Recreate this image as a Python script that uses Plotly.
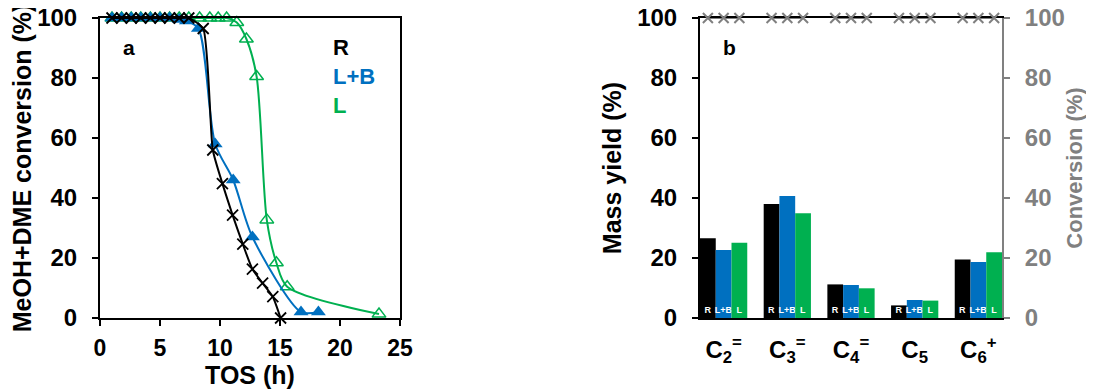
import plotly.graph_objects as go

# ---------- Panel a data ----------
R_tos = [1.0, 1.8, 2.6, 3.4, 4.2, 5.0, 5.8, 6.6, 7.4, 8.6, 9.4, 10.2, 11.05, 11.9, 12.7, 13.55, 14.4, 15.05]
R_conv = [100, 100, 100, 100, 100, 100, 100, 100, 100, 96.5, 56, 44.8, 34.3, 24.6, 16.3, 11.6, 7.1, 0]

LB_tos = [1.0, 1.8, 2.6, 3.4, 4.2, 5.0, 5.8, 6.6, 7.2, 8.2, 9.6, 11.1, 12.7, 16.75, 18.2]
LB_conv = [100, 100, 100, 100, 100, 100, 100, 99.5, 99, 96.5, 58, 46, 27, 2, 2]

L_tos = [1.0, 1.8, 2.6, 3.4, 4.2, 5.0, 5.8, 6.6, 7.4, 8.3, 9.15, 9.85, 10.55, 11.4, 12.2, 13.05, 13.9, 14.7, 15.6, 23.25]
L_conv = [100, 100, 100, 100, 100, 100, 100, 100, 100, 100, 100, 100, 100, 98.5, 93, 80.5, 32.7, 18.4, 10.4, 1.3]

# ---------- Panel b data ----------
products = ["C<sub>2</sub><sup>=</sup>", "C<sub>3</sub><sup>=</sup>", "C<sub>4</sub><sup>=</sup>",
            "C<sub>5</sub>", "C<sub>6</sub><sup>+</sup>"]
yield_R = [26.6, 38.0, 11.2, 4.2, 19.5]
yield_LB = [22.7, 40.7, 11.0, 6.0, 18.7]
yield_L = [25.1, 34.9, 9.9, 5.8, 21.9]
conv_R = [100, 100, 100, 100, 100]
conv_LB = [100, 100, 100, 100, 100]
conv_L = [100, 100, 100, 100, 100]
series_names = ["R", "L+B", "L"]

BLACK = "#000000"
BLUE = "#0070C0"
GREEN = "#00B050"
GRAY = "#808080"
FONT = "Liberation Sans, Arial, sans-serif"

fig = go.Figure()

# Panel a
fig.add_trace(go.Scatter(x=L_tos, y=L_conv, mode="lines+markers", name="L",
                         line=dict(color=GREEN, width=2, shape="spline", smoothing=0.8),
                         marker=dict(symbol="triangle-up-open", size=12, color=GREEN, line=dict(width=1.5, color=GREEN)),
                         xaxis="x", yaxis="y", cliponaxis=False))
fig.add_trace(go.Scatter(x=LB_tos, y=LB_conv, mode="lines+markers", name="L+B",
                         line=dict(color=BLUE, width=2, shape="spline", smoothing=0.8),
                         marker=dict(symbol="triangle-up", size=13, color=BLUE),
                         xaxis="x", yaxis="y", cliponaxis=False))
fig.add_trace(go.Scatter(x=R_tos, y=R_conv, mode="lines+markers", name="R",
                         line=dict(color=BLACK, width=2, shape="spline", smoothing=0.5),
                         marker=dict(symbol="x-thin-open", size=11, color=BLACK, line=dict(width=1.8, color=BLACK)),
                         xaxis="x", yaxis="y", cliponaxis=False))

# Panel b bars
xpos = list(range(len(products)))
bargap = 0.258
groupw = 1 - bargap
for name, vals, col in [("R", yield_R, BLACK), ("L+B", yield_LB, BLUE), ("L", yield_L, GREEN)]:
    fig.add_trace(go.Bar(x=xpos, y=vals, name=name, marker=dict(color=col, line=dict(width=0)),
                         text=[name] * len(vals), textposition="inside", insidetextanchor="start",
                         textangle=0, constraintext="none",
                         textfont=dict(color="white", size=9, family=FONT, weight="bold"),
                         xaxis="x2", yaxis="y2"))

# Conversion markers (one per bar, connected within each product group)
cx, cy = [], []
for i in xpos:
    for j, conv in enumerate([conv_R, conv_LB, conv_L]):
        cx.append(i + (j - 1) * groupw / 3)
        cy.append(conv[i])
    cx.append(None)
    cy.append(None)
fig.add_trace(go.Scatter(x=cx, y=cy, mode="lines+markers", name="Conversion",
                         line=dict(color=GRAY, width=2),
                         marker=dict(symbol="x-thin-open", size=10, color=GRAY, line=dict(width=2, color=GRAY)),
                         xaxis="x2", yaxis="y3", cliponaxis=False, connectgaps=False))

tickfont = dict(family=FONT, size=24, color=BLACK, weight="bold")
xtickfont = dict(family=FONT, size=23, color=BLACK, weight="bold")
titlefont = dict(family=FONT, size=25, color=BLACK, weight="bold")

dom_a = [0, 300 / 902]
dom_b = [600 / 902, 1]

# page body adds an 8px offset; figure sized to fill the remaining window
fig.update_layout(
    width=1086, height=381,
    margin=dict(l=92, r=92, t=10, b=71),
    paper_bgcolor="white", plot_bgcolor="white",
    showlegend=False,
    barmode="group", bargap=bargap, bargroupgap=0,
    font=dict(family=FONT),
    xaxis=dict(domain=dom_a, range=[0, 25], dtick=5, showline=True, linecolor=BLACK, linewidth=2,
               mirror=True, ticks="outside", ticklen=6, tickwidth=2, tickcolor=BLACK, automargin=False,
               tickfont=xtickfont, showgrid=False, zeroline=False, ticklabelstandoff=2,
               ticklabeloverflow="allow",
               title=dict(text="TOS (h)", font=titlefont, standoff=2)),
    yaxis=dict(domain=[0, 1], range=[0, 100], dtick=20, showline=True, linecolor=BLACK, linewidth=2,
               mirror=True, ticks="outside", ticklen=6, tickwidth=2, tickcolor=BLACK, automargin=False,
               tickfont=tickfont, showgrid=False, zeroline=False, ticklabelstandoff=10,
               ticklabeloverflow="allow",
               title=dict(text="MeOH+DME conversion (%)", font=titlefont, standoff=10)),
    xaxis2=dict(domain=dom_b, anchor="y2", range=[-0.5 + bargap / 2, len(products) - 0.5 - bargap / 2],
                tickvals=xpos, ticktext=products, showline=True, linecolor=BLACK, linewidth=2,
                mirror=True, ticks="", tickfont=tickfont, showgrid=False, zeroline=False, automargin=False,
                ticklabelstandoff=9, ticklabeloverflow="allow", layer="below traces"),
    yaxis2=dict(domain=[0, 1], anchor="x2", range=[0, 100], dtick=20, showline=True, linecolor=BLACK,
                linewidth=2, ticks="outside", ticklen=6, tickwidth=2, tickcolor=BLACK, automargin=False,
                tickfont=tickfont, showgrid=False, zeroline=False, ticklabelstandoff=10,
                ticklabeloverflow="allow",
                title=dict(text="Mass yield (%)", font=titlefont, standoff=8)),
    yaxis3=dict(overlaying="y2", anchor="x2", side="right", range=[0, 100], dtick=20, showline=True,
                linecolor=GRAY, linewidth=2, ticks="outside", ticklen=6, tickwidth=2, tickcolor=GRAY,
                tickfont=dict(family=FONT, size=24, color=GRAY, weight="bold"), automargin=False,
                showgrid=False, zeroline=False, ticklabelstandoff=10, ticklabeloverflow="allow",
                title=dict(text="Conversion (%)", font=dict(family=FONT, size=22, color=GRAY, weight="bold"),
                           standoff=3)),
)

ann_font = dict(family=FONT, size=21, weight="bold")
fig.add_annotation(x=0.07, y=0.9, xref="x domain", yref="y domain", text="a", showarrow=False,
                   font=dict(ann_font, color=BLACK), xanchor="left", yanchor="middle")
fig.add_annotation(x=0.07, y=0.9, xref="x2 domain", yref="y2 domain", text="b", showarrow=False,
                   font=dict(ann_font, color=BLACK), xanchor="left", yanchor="middle")
for k, (name, col) in enumerate(zip(series_names, [BLACK, BLUE, GREEN])):
    fig.add_annotation(x=0.77, y=0.9 - k * 0.095, xref="x domain", yref="y domain", text=name,
                       showarrow=False, font=dict(family=FONT, size=22, weight="bold", color=col),
                       xanchor="left", yanchor="middle")

fig.write_html("out.html")
